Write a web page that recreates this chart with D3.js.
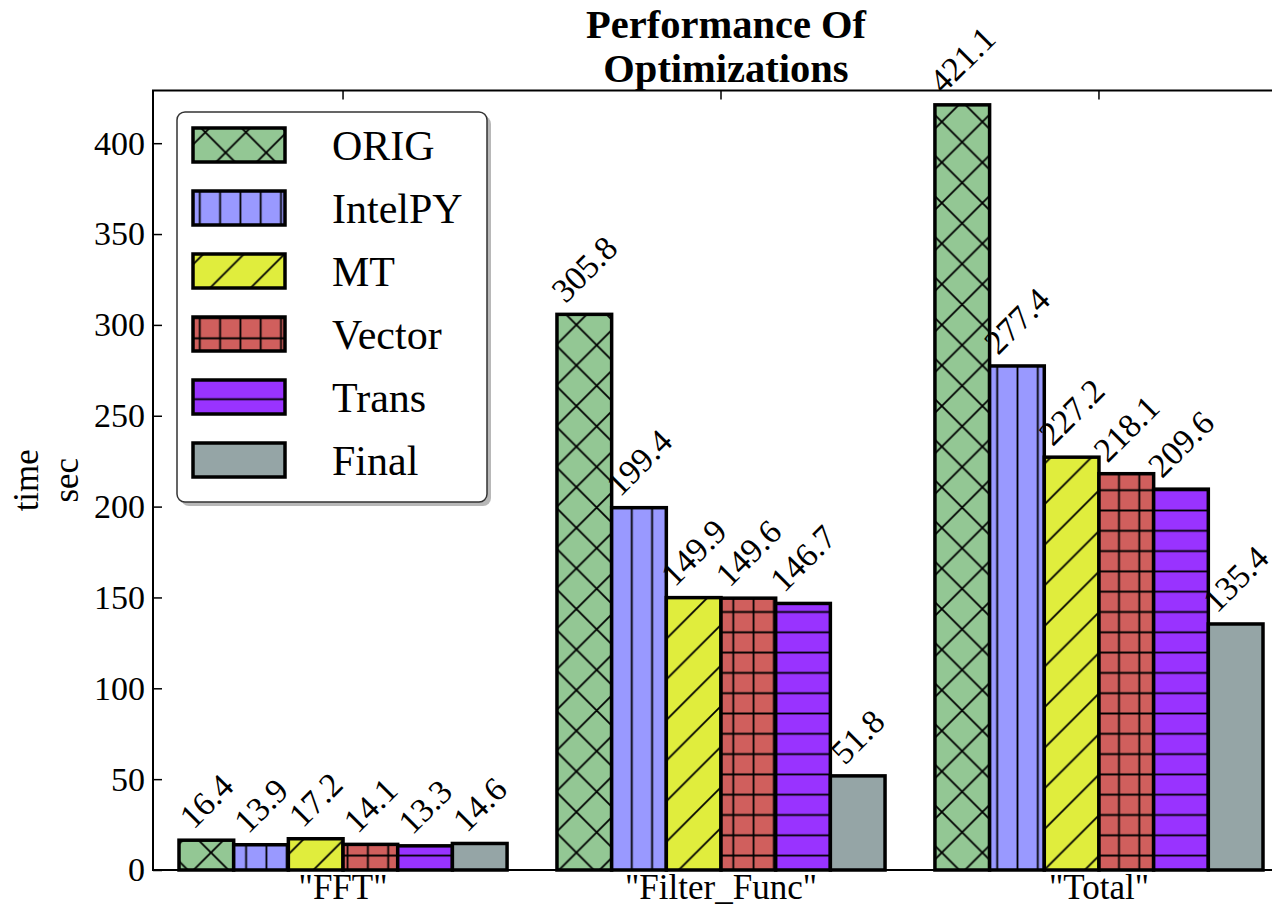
<!DOCTYPE html>
<html><head><meta charset="utf-8">
<script src="https://cdn.jsdelivr.net/npm/d3@7"></script>
<style>
body{margin:0;background:#fff}
text{font-family:"Liberation Serif","Times New Roman",serif;fill:#000}
</style>
</head><body>
<svg id="c" width="1272" height="907"></svg>
<script>
// ---- data ----
const categories = ["FFT", "Filter_Func", "Total"];
const seriesNames = ["ORIG", "IntelPY", "MT", "Vector", "Trans", "Final"];
const origValues    = [16.4, 305.8, 421.1];
const intelpyValues = [13.9, 199.4, 277.4];
const mtValues      = [17.2, 149.9, 227.2];
const vectorValues  = [14.1, 149.6, 218.1];
const transValues   = [13.3, 146.7, 209.6];
const finalValues   = [14.6, 51.8, 135.4];
const yTickValues = [0, 50, 100, 150, 200, 250, 300, 350, 400];
const titleLines = ["Performance Of", "Optimizations"];
const yLabelLines = ["time", "sec"];

const seriesValues = [origValues, intelpyValues, mtValues, vectorValues, transValues, finalValues];
const colors = ["#93c794", "#9999ff", "#e0ed3d", "#d05f5d", "#9933ff", "#95a5a6"];
const hatches = ["x", "|", "/", "+", "-", ""];

// ---- layout ----
const svg = d3.select("#c");
const L = 153, R = 1289, T = 90.5, B = 870;

const x = d3.scaleBand().domain(categories).range([L, R]).paddingInner(0.132).paddingOuter(0.0688);
const xs = d3.scaleBand().domain(seriesNames).range([0, x.bandwidth()]);
const y = d3.scaleLinear().domain([0, 429]).range([B, T]);

// ---- hatch patterns ----
const defs = svg.append("defs");
const HS = 20.3;
hatches.forEach((h, i) => {
  const isDiag = (h === "x" || h === "/");
  const P = isDiag ? HS * 2 : HS;
  const p = defs.append("pattern").attr("id", "pat" + i)
    .attr("patternUnits", "userSpaceOnUse")
    .attr("width", P).attr("height", P);
  p.append("rect").attr("width", P).attr("height", P).attr("fill", colors[i]);
  let d = "";
  if (h === "|" || h === "+") {
    p.attr("x", 2.5 - P / 2);
    d += `M${P/2},0V${P}`;
  }
  if (h === "-" || h === "+") {
    p.attr("y", 3 - P / 2);
    d += `M0,${P/2}H${P}`;
  }
  if (h === "/" || h === "x") {
    p.attr("x", 6);
    d += `M0,${P}L${P},0M${-P/4},${P/4}L${P/4},${-P/4}M${3*P/4},${5*P/4}L${5*P/4},${3*P/4}`;
  }
  if (h === "x") {
    p.attr("x", 8).attr("y", 0);
    d += `M0,0L${P},${P}M${-P/4},${3*P/4}L${P/4},${5*P/4}M${3*P/4},${-P/4}L${5*P/4},${P/4}`;
  }
  if (d) p.append("path").attr("d", d).attr("stroke", "#000").attr("stroke-width", 1.8).attr("fill", "none");
});

// ---- bars ----
const barData = [];
seriesNames.forEach((s, si) => {
  categories.forEach((c, ci) => barData.push({s, si, c, v: seriesValues[si][ci]}));
});

svg.append("g").selectAll("rect").data(barData).join("rect")
  .attr("x", d => x(d.c) + xs(d.s))
  .attr("y", d => y(d.v))
  .attr("width", xs.bandwidth())
  .attr("height", d => y(0) - y(d.v))
  .attr("fill", d => `url(#pat${d.si})`)
  .attr("stroke", "#000").attr("stroke-width", 3.5);

// ---- bar value labels (rotated 45°, bbox centered over bar) ----
const LF = 34, LH = 0.676 * LF, S = Math.SQRT1_2;
svg.append("g").selectAll("text").data(barData).join("text")
  .attr("font-size", LF)
  .text(d => d.v.toFixed(1))
  .each(function(d) {
    const w = this.getComputedTextLength();
    const cx = x(d.c) + xs(d.s) + xs.bandwidth() / 2;
    const ax = cx - (w - LH) * S / 2;
    const ay = y(d.v) - 10;
    d3.select(this).attr("transform", `translate(${ax},${ay}) rotate(-45)`);
  });

// ---- axes ----
const gy = svg.append("g").attr("transform", `translate(${L},0)`)
  .call(d3.axisLeft(y).tickValues(yTickValues).tickSizeInner(-9).tickSizeOuter(0).tickPadding(8));
gy.select(".domain").remove();
gy.selectAll("line").attr("stroke", "#000").attr("stroke-width", 1.5);
gy.selectAll("text").attr("font-size", 34).attr("fill", "#000");

const gyr = svg.append("g").attr("transform", `translate(${R},0)`)
  .call(d3.axisRight(y).tickValues(yTickValues).tickSizeInner(-9).tickSizeOuter(0).tickFormat(""));
gyr.select(".domain").remove();

const gx = svg.append("g").attr("transform", `translate(0,${B})`)
  .call(d3.axisBottom(x).tickSizeInner(-9).tickSizeOuter(0).tickFormat(d => `"${d}"`));
gx.select(".domain").remove();
gx.selectAll("line").attr("stroke", "#000").attr("stroke-width", 1.5);
gx.selectAll("text").attr("font-size", 35).attr("fill", "#000").attr("dy", null).attr("y", 29);

const gxt = svg.append("g").attr("transform", `translate(0,${T})`)
  .call(d3.axisTop(x).tickSizeInner(-9).tickSizeOuter(0).tickFormat(""));
gxt.select(".domain").remove();
gxt.selectAll("line").attr("stroke", "#000").attr("stroke-width", 1.5);

// frame
svg.append("rect").attr("x", L).attr("y", T).attr("width", R - L).attr("height", B - T)
  .attr("fill", "none").attr("stroke", "#000").attr("stroke-width", 2);

// ---- title ----
const title = svg.append("text").attr("text-anchor", "middle")
  .attr("font-size", 40.5).attr("font-weight", "bold");
titleLines.forEach((t, i) => title.append("tspan").attr("x", 726).attr("y", 38 + i * 44).text(t));

// ---- y label ----
const yl = svg.append("text").attr("text-anchor", "middle").attr("font-size", 35)
  .attr("transform", `translate(0,${(T + B) / 2}) rotate(-90)`);
yLabelLines.forEach((t, i) => yl.append("tspan").attr("x", 0).attr("y", 38 + i * 40).text(t));

// ---- legend ----
const lg = svg.append("g").attr("transform", "translate(177,112)");
lg.append("rect").attr("x", 4).attr("y", 4).attr("width", 310).attr("height", 390)
  .attr("rx", 8).attr("fill", "#888").attr("opacity", 0.6);
lg.append("rect").attr("width", 310).attr("height", 390).attr("rx", 8)
  .attr("fill", "#fff").attr("stroke", "#333").attr("stroke-width", 1.5);
seriesNames.forEach((s, i) => {
  const gy0 = 16 + i * 63;
  lg.append("rect").attr("x", 16).attr("y", gy0).attr("width", 92).attr("height", 34)
    .attr("fill", `url(#pat${i})`).attr("stroke", "#000").attr("stroke-width", 3.5);
  lg.append("text").attr("x", 155).attr("y", gy0 + 17 + 15).attr("font-size", 42).text(s);
});
</script>
</body></html>
